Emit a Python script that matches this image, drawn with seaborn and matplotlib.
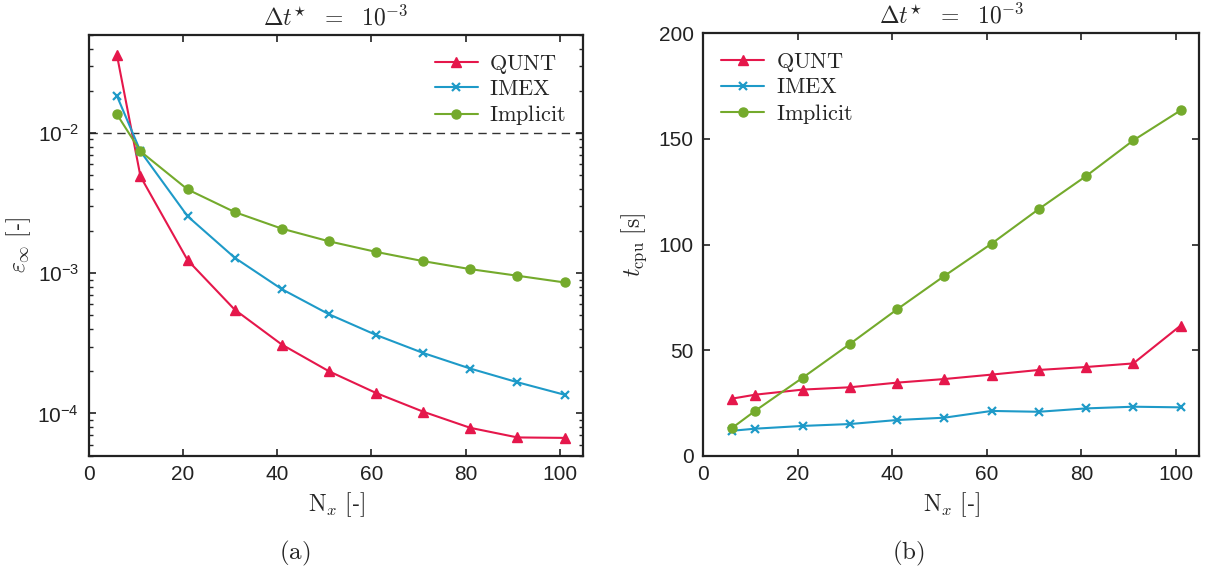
import numpy as np
import pandas as pd
import matplotlib
matplotlib.use("Agg")
import matplotlib.pyplot as plt
import seaborn as sns
from matplotlib.ticker import LogLocator, LogFormatterSciNotation, NullFormatter, MultipleLocator
from matplotlib.lines import Line2D

sns.set_theme(style="ticks")
plt.rcParams['font.family'] = ['Liberation Sans', 'DejaVu Sans']
plt.rcParams['mathtext.fontset'] = 'stixsans'

nx = [6, 11, 21, 31, 41, 51, 61, 71, 81, 91, 101]
methods = ["QUNT", "IMEX", "Implicit"]

err_qunt = [0.036, 0.0049, 0.00124, 5.5e-4, 3.1e-4, 2.0e-4, 1.4e-4, 1.03e-4, 7.9e-5, 6.75e-5, 6.7e-5]
err_imex = [0.0184, 0.0074, 0.00255, 0.00129, 7.7e-4, 5.1e-4, 3.63e-4, 2.7e-4, 2.09e-4, 1.67e-4, 1.36e-4]
err_impl = [0.0136, 0.0074, 0.00396, 0.00273, 0.00208, 0.00169, 0.00142, 0.00122, 0.00107, 9.6e-4, 8.6e-4]

cpu_qunt = [27.0, 28.9, 31.3, 32.4, 34.6, 36.3, 38.4, 40.6, 42.0, 43.7, 61.6]
cpu_imex = [11.8, 12.8, 14.1, 15.0, 16.9, 18.0, 21.2, 20.8, 22.4, 23.2, 22.9]
cpu_impl = [13.0, 21.3, 36.9, 52.9, 69.3, 85.1, 100.4, 116.8, 132.4, 149.3, 163.5]

colors = {"QUNT": "#E5174B", "IMEX": "#1E9AC8", "Implicit": "#74AA2C"}
markers = {"QUNT": "^", "IMEX": "x", "Implicit": "o"}
msizes = {"QUNT": 7.5, "IMEX": 5.5, "Implicit": 6.5}
mews = {"QUNT": 1.0, "IMEX": 1.6, "Implicit": 1.0}

fig = plt.figure(figsize=(12.06, 5.71), dpi=100)
ax1 = fig.add_axes([0.0735, 0.2019, 0.4103, 0.7368])
ax2 = fig.add_axes([0.5832, 0.2019, 0.4114, 0.7398])

for ax, series in [(ax1, [err_qunt, err_imex, err_impl]), (ax2, [cpu_qunt, cpu_imex, cpu_impl])]:
    for m, vals in zip(methods, series):
        d = pd.DataFrame({"Nx": nx, "val": vals})
        sns.lineplot(data=d, x="Nx", y="val", color=colors[m], marker=markers[m],
                     markersize=msizes[m], linewidth=1.5, markeredgewidth=mews[m],
                     markeredgecolor=colors[m], ax=ax, legend=False)

# left axis (log)
ax1.set_yscale('log')
ax1.set_ylim(5e-5, 5e-2)
ax1.axhline(1e-2, color='#333333', linestyle=(0, (6, 4)), linewidth=1.0, zorder=0)
ax1.yaxis.set_major_locator(LogLocator(base=10, numticks=10))
ax1.yaxis.set_major_formatter(LogFormatterSciNotation(base=10))
ax1.yaxis.set_minor_locator(LogLocator(base=10, subs=np.arange(2, 10), numticks=20))
ax1.yaxis.set_minor_formatter(NullFormatter())

# right axis
ax2.set_ylim(0, 200)
ax2.yaxis.set_major_locator(MultipleLocator(50))

for ax in (ax1, ax2):
    ax.set_xlim(0, 105)
    ax.xaxis.set_major_locator(MultipleLocator(20))
    ax.tick_params(which='major', direction='in', length=5, width=1.2,
                   top=True, right=True, labelsize=15, colors='#222222')
    ax.tick_params(axis='x', which='major', pad=6.5)
    ax.tick_params(axis='y', which='major', pad=7)
    ax.tick_params(which='minor', direction='in', length=3, width=1.0,
                   top=False, right=True)
    for s in ax.spines.values():
        s.set_linewidth(1.6)
        s.set_color('#222222')
    ax.set_title(r'$\Delta t^{\star}\ \ =\ \ 10^{-3}$', fontsize=17, math_fontfamily='cm', pad=7)
    ax.set_xlabel(r'$\mathrm{N}_x\ [$-$]$', fontsize=17, math_fontfamily='cm', labelpad=5)
    handles = [Line2D([], [], color=colors[m], marker=markers[m], markersize=msizes[m],
                      markeredgewidth=mews[m], markeredgecolor=colors[m], linewidth=1.5) for m in methods]
    labels = [r'$\mathrm{%s}$' % m for m in methods]
    loc = 'upper right' if ax is ax1 else 'upper left'
    leg = ax.legend(handles, labels, loc=loc, frameon=False, fontsize=16,
                    handlelength=1.95, handletextpad=0.5, labelspacing=0.15,
                    borderaxespad=0.4, borderpad=0.4)
    for t in leg.get_texts():
        t.set_math_fontfamily('cm')

ax1.set_ylabel(r'$\varepsilon_{\infty}\ [$-$]$', fontsize=17, math_fontfamily='cm', labelpad=3)
ax2.set_ylabel(r'$t_{\mathrm{cpu}}\ [\mathrm{s}]$', fontsize=17, math_fontfamily='cm', labelpad=7)

fig.text(295 / 1206, 1 - 553 / 571, r'$\mathrm{(a)}$', fontsize=18, math_fontfamily='cm', ha='center', va='center')
fig.text(908 / 1206, 1 - 553 / 571, r'$\mathrm{(b)}$', fontsize=18, math_fontfamily='cm', ha='center', va='center')

fig.savefig('out.png', dpi=100)
